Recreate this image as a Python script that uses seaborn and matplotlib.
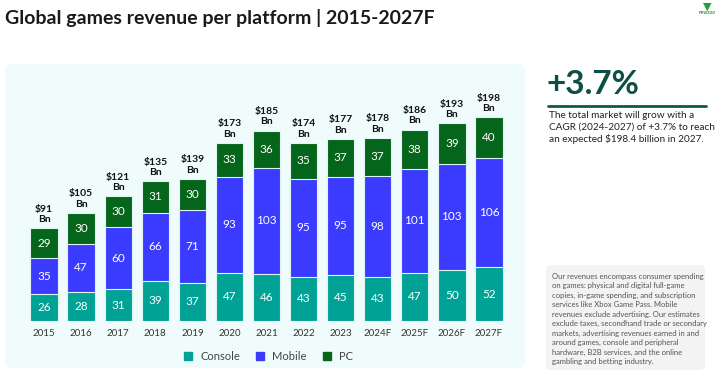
import matplotlib
matplotlib.use("Agg")
import matplotlib.pyplot as plt
from matplotlib.patches import FancyBboxPatch
from matplotlib.lines import Line2D
import seaborn as sns
import numpy as np

# data
years = ["2015", "2016", "2017", "2018", "2019", "2020", "2021", "2022",
         "2023", "2024F", "2025F", "2026F", "2027F"]
console = [26, 28, 31, 39, 37, 47, 46, 43, 45, 43, 47, 50, 52]
mobile = [35, 47, 60, 66, 71, 93, 103, 95, 95, 98, 101, 103, 106]
pc = [29, 30, 30, 31, 30, 33, 36, 35, 37, 37, 38, 39, 40]
totals = [91, 105, 121, 135, 139, 173, 185, 174, 177, 178, 186, 193, 198]

c_console = "#00a296"
c_mobile = "#3b3bff"
c_pc = "#05651a"

sns.set_style("white")
plt.rcParams["font.family"] = ["Lato", "DejaVu Sans"]

fig = plt.figure(figsize=(7.19, 3.8), dpi=100)

# light panel behind the chart
panel = FancyBboxPatch((5 / 719, 1 - 368 / 380), 520 / 719, 304 / 380,
                       boxstyle="round,pad=0,rounding_size=0.015",
                       transform=fig.transFigure, facecolor="#effcfb",
                       edgecolor="none", zorder=-5)
fig.patches.append(panel)

ax = fig.add_axes([20 / 719, 59 / 380, 493 / 719, 247 / 380])
ax.set_zorder(2)
ax.patch.set_alpha(0)

lower = np.array(console)
middle = lower + np.array(mobile)
top = middle + np.array(pc)

for vals, col in [(top, c_pc), (middle, c_mobile), (lower, c_console)]:
    sns.barplot(x=years, y=vals, color=col, width=0.74, saturation=1,
                edgecolor="#dff5f2", linewidth=0.8, ax=ax)

for i in range(len(years)):
    ax.text(i, console[i] / 2, str(console[i]), ha="center", va="center",
            color="white", fontsize=8.5)
    ax.text(i, lower[i] + mobile[i] / 2, str(mobile[i]), ha="center",
            va="center", color="white", fontsize=8.5)
    ax.text(i, middle[i] + pc[i] / 2, str(pc[i]), ha="center", va="center",
            color="white", fontsize=8.5)
    ax.text(i, top[i] + 4, f"${totals[i]}\nBn", ha="center", va="bottom",
            color="#111111", fontsize=7.5, fontweight="bold", linespacing=1.2)

ax.set_xlim(-0.65, 12.65)
ax.set_ylim(0, 240)
ax.set_yticks([])
ax.set_xlabel("")
ax.set_ylabel("")
ax.tick_params(axis="x", length=0, labelsize=7, colors="#333333", pad=6)
sns.despine(ax=ax, left=True, bottom=True)

handles = [Line2D([], [], marker="s", linestyle="", color=c, markersize=6)
           for c in (c_console, c_mobile, c_pc)]
fig.legend(handles, ["Console", "Mobile", "PC"], loc="center",
           bbox_to_anchor=(265 / 719, 1 - 356 / 380), ncol=3, frameon=False,
           fontsize=8, handletextpad=0.1, columnspacing=0.8,
           labelcolor="#444444")

# title
fig.text(5 / 719, 1 - 18 / 380, "Global games revenue per platform | 2015-2027F",
         fontsize=14, color="#1a1a1a", va="center", ha="left",
         fontweight="bold")

# logo
fig.text(707 / 719, 1 - 6 / 380, "\u25bc", fontsize=8, color="#2a9d3a",
         ha="center", va="center")
fig.text(707 / 719, 1 - 13 / 380, "newzoo", fontsize=3.5, color="#2a9d3a",
         ha="center", va="center", fontweight="bold")

# right side key figure
fig.text(547 / 719, 1 - 84 / 380, "+3.7%", fontsize=24, color="#0d4f45",
         ha="left", va="center", fontweight="bold")
fig.add_artist(Line2D([548 / 719, 706 / 719], [1 - 106 / 380, 1 - 106 / 380],
                      color="#0d5a4c", linewidth=2, transform=fig.transFigure))
fig.text(549 / 719, 1 - 111 / 380,
         "The total market will grow with a\n"
         "CAGR (2024-2027) of +3.7% to reach\n"
         "an expected $198.4 billion in 2027.",
         fontsize=7.2, color="#222222", ha="left", va="top", linespacing=1.3)

# note box
note = FancyBboxPatch((546 / 719, 1 - 370 / 380), 159 / 719, 105 / 380,
                      boxstyle="round,pad=0,rounding_size=0.01",
                      transform=fig.transFigure, facecolor="#f3f3f3",
                      edgecolor="none", zorder=-5)
fig.patches.append(note)
fig.text(552 / 719, 1 - 273 / 380,
         "Our revenues encompass consumer spending\n"
         "on games: physical and digital full-game\n"
         "copies, in-game spending, and subscription\n"
         "services like Xbox Game Pass. Mobile\n"
         "revenues exclude advertising. Our estimates\n"
         "exclude taxes, secondhand trade or secondary\n"
         "markets, advertising revenues earned in and\n"
         "around games, console and peripheral\n"
         "hardware, B2B services, and the online\n"
         "gambling and betting industry.",
         fontsize=5.5, color="#555555", ha="left", va="top", linespacing=1.4)

fig.savefig("out.png", dpi=100)
